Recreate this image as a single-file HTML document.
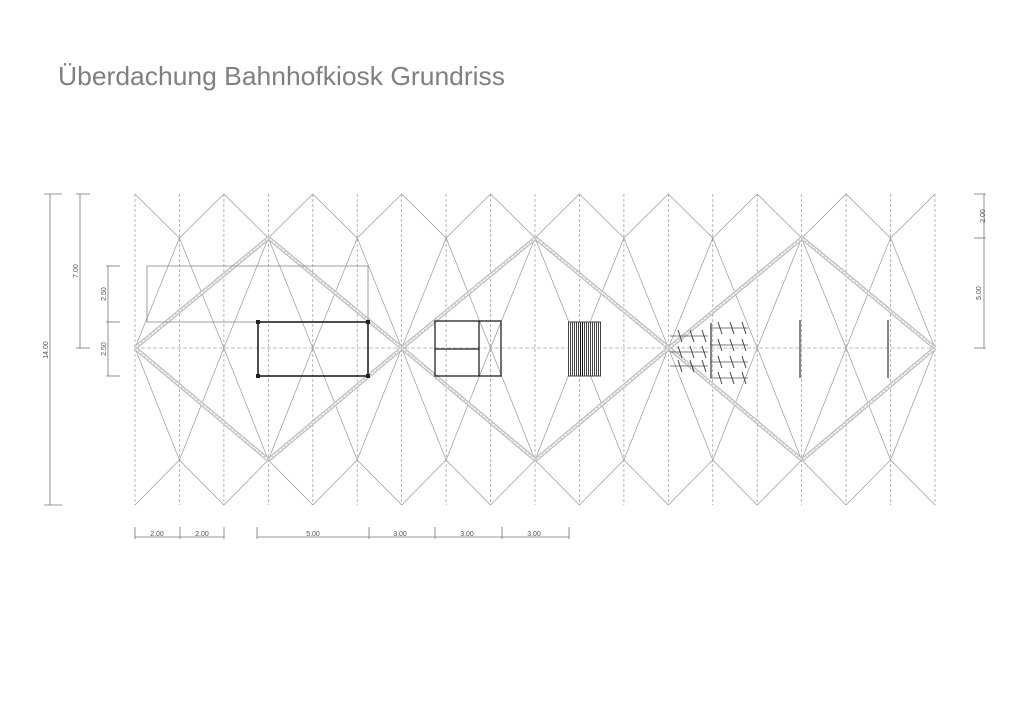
<!DOCTYPE html>
<html><head><meta charset="utf-8"><style>
html,body{margin:0;padding:0;background:#fff;}
svg{display:block;}
text{font-family:"Liberation Sans",sans-serif;}
</style></head><body>
<svg id="s" width="1024" height="724" viewBox="0 0 1024 724" xmlns="http://www.w3.org/2000/svg">
<rect width="1024" height="724" fill="#fff"/>
<text x="58" y="85" font-size="26" fill="#808080" textLength="447" lengthAdjust="spacingAndGlyphs">Überdachung Bahnhofkiosk Grundriss</text>
<g id="grid"></g>
<g id="dia"></g>
<rect x="147" y="266" width="221" height="56" fill="none" stroke="#888" stroke-width="0.8"/>
<rect x="258" y="322" width="110" height="54" fill="none" stroke="#222" stroke-width="1.6"/>
<g fill="#222"><rect x="256" y="320" width="4" height="4"/><rect x="366" y="320" width="4" height="4"/><rect x="256" y="374" width="4" height="4"/><rect x="366" y="374" width="4" height="4"/></g>
<rect x="435" y="321" width="66" height="55" fill="none" stroke="#222" stroke-width="1.3"/>
<line x1="479" y1="321" x2="479" y2="376" stroke="#222" stroke-width="1.3"/>
<line x1="435" y1="349" x2="479" y2="349" stroke="#222" stroke-width="1.3"/>
<rect x="568" y="322" width="33" height="54" fill="#fff"/>
<g id="stripes" shape-rendering="crispEdges"></g>
<g id="bikes" stroke="#555" stroke-width="0.8" fill="none"></g>
<g id="dims" stroke="#777" stroke-width="0.8" fill="none"></g>
<g font-size="7" fill="#555" text-anchor="middle">
<text transform="translate(48,350) rotate(-90)">14.00</text>
<text transform="translate(78,271) rotate(-90)">7.00</text>
<text transform="translate(106,294) rotate(-90)">2.50</text>
<text transform="translate(106,349) rotate(-90)">2.50</text>
<text transform="translate(985,216) rotate(-90)">2.00</text>
<text transform="translate(981,293) rotate(-90)">5.00</text>
<text x="157" y="536">2.00</text>
<text x="202" y="536">2.00</text>
<text x="313" y="536">5.00</text>
<text x="400" y="536">3.00</text>
<text x="467" y="536">3.00</text>
<text x="534" y="536">3.00</text>
</g>
</svg>
<script>
var NS="http://www.w3.org/2000/svg";
function L(g,x1,y1,x2,y2,st,w,da){var l=document.createElementNS(NS,"line");l.setAttribute("x1",x1);l.setAttribute("y1",y1);l.setAttribute("x2",x2);l.setAttribute("y2",y2);l.setAttribute("stroke",st);l.setAttribute("stroke-width",w);if(da)l.setAttribute("stroke-dasharray",da);document.getElementById(g).appendChild(l);}
var x0=135,dx=800/18,T=194,R2=238,M=348,R4=460,B=505;
for(var i=0;i<=18;i++){var x=x0+i*dx;
 L("grid",x,T,x,B,"#999",0.7,"3,2");
 if(i<18){var xn=x+dx;
  if(i%2==0){L("grid",x,T,xn,R2,"#999",0.7);L("grid",x,B,xn,R4,"#999",0.7);}
  else{L("grid",x,R2,xn,T,"#999",0.7);L("grid",x,R4,xn,B,"#999",0.7);}
 }
 if(i%2==1){L("grid",x,R2,x-dx,M,"#999",0.7);L("grid",x,R2,x+dx,M,"#999",0.7);L("grid",x,R4,x-dx,M,"#999",0.7);L("grid",x,R4,x+dx,M,"#999",0.7);}
}
L("grid",x0,M,935,M,"#aaa",0.7,"4,2");
var cs=[[135,402],[402,669],[669,935]];
cs.forEach(function(c){var a=c[0],b=c[1],m=(a+b)/2;
 [[a,M,m,R2],[m,R2,b,M],[b,M,m,R4],[m,R4,a,M]].forEach(function(p){
  L("dia",p[0],p[1],p[2],p[3],"#bbb",4);L("dia",p[0],p[1],p[2],p[3],"#fff",1.6);L("dia",p[0],p[1],p[2],p[3],"#aaa",0.6,"2,2");});
});
for(var x=568;x<=601;x+=2)L("stripes",x+0.5,322,x+0.5,376,(x>578&&x<584)?"#111":"#444",1);
L("stripes",568,322,601,322,"#444",1);L("stripes",568,376,601,376,"#444",1);
[[678,336],[678,352],[678,366],[718,328],[718,345],[718,362],[718,378]].forEach(function(p){L("bikes",p[0]-8,p[1],p[0]+30,p[1],"#555",0.8);
 for(var k=0;k<3;k++){L("bikes",p[0]+k*12,p[1]-6,p[0]+k*12+4,p[1]+6,"#444",1);}});
L("bikes",711,323,711,378,"#444",1.3);L("bikes",800,320,800,378,"#444",1.3);L("bikes",888,320,888,378,"#444",1.3);
L("dims",50,194,50,505,"#777",0.8);L("dims",44,194,62,194,"#777",0.8);L("dims",44,505,62,505,"#777",0.8);
L("dims",80,194,80,348,"#777",0.8);L("dims",76,194,90,194,"#777",0.8);L("dims",76,348,90,348,"#777",0.8);
L("dims",108,266,108,376,"#777",0.8);[266,322,376].forEach(function(y){L("dims",106,y,120,y,"#777",0.8);});
L("dims",984,194,984,348,"#777",0.8);[194,238,348].forEach(function(y){L("dims",974,y,986,y,"#777",0.8);});
L("dims",135,537,224,537,"#777",0.8);L("dims",257,537,569,537,"#777",0.8);
[135,180,224,257,369,435,502,569].forEach(function(x){L("dims",x,527,x,539,"#777",0.8);});
</script>
</body></html>
